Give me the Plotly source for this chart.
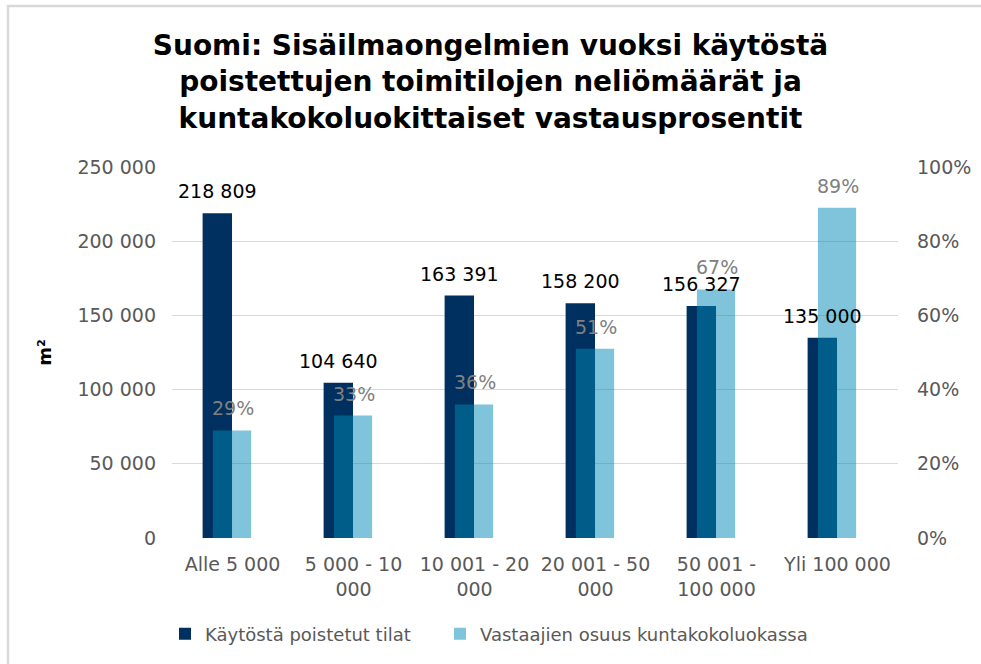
import plotly.graph_objects as go

categories = ["Alle 5 000", "5 000 - 10<br>000", "10 001 - 20<br>000", "20 001 - 50<br>000", "50 001 -<br>100 000", "Yli 100 000"]
poistetut = [218809, 104640, 163391, 158200, 156327, 135000]
poistetut_labels = ["218 809", "104 640", "163 391", "158 200", "156 327", "135 000"]
osuus = [0.29, 0.33, 0.36, 0.51, 0.67, 0.89]
osuus_labels = ["29%", "33%", "36%", "51%", "67%", "89%"]
y1_ticks = [0, 50000, 100000, 150000, 200000, 250000]
y1_ticktext = ["0", "50 000", "100 000", "150 000", "200 000", "250 000"]
y2_ticks = [0, 0.2, 0.4, 0.6, 0.8, 1.0]
y2_ticktext = ["0%", "20%", "40%", "60%", "80%", "100%"]

FONT = "Verdana, DejaVu Sans, sans-serif"
W, H = 981, 664
L, R, T, B = 172, 898, 167, 538

DARK = "#00305F"
LIGHT = "rgba(0,137,181,0.5)"

fig = go.Figure()
fig.add_trace(go.Bar(
    x=categories, y=poistetut, name="Käytöstä poistetut tilat",
    marker=dict(color=DARK, line=dict(width=0)),
    offset=-0.247, width=0.243, yaxis="y", hoverinfo="skip", legend="legend",
))
fig.add_trace(go.Bar(
    x=categories, y=osuus, name="Vastaajien osuus kuntakokoluokassa",
    marker=dict(color=LIGHT, line=dict(width=0)),
    offset=-0.162, width=0.316, yaxis="y2", hoverinfo="skip", legend="legend2",
))

annotations = []
for c, v, t in zip(categories, poistetut, poistetut_labels):
    annotations.append(dict(x=c, y=v, xref="x", yref="y", text=t, showarrow=False,
                            yanchor="bottom", yshift=9, xshift=-15,
                            font=dict(family=FONT, size=19, color="#000000")))
for c, v, t in zip(categories, osuus, osuus_labels):
    annotations.append(dict(x=c, y=v, xref="x", yref="y2", text=t, showarrow=False,
                            yanchor="bottom", yshift=9, xshift=0,
                            font=dict(family=FONT, size=19, color="#808080")))

pw, ph = R - L, B - T
def px(x):
    return (x - L) / pw
def py(y):
    return (B - y) / ph

legend_common = dict(
    orientation="h", xanchor="left", y=py(634), yanchor="middle",
    font=dict(family=FONT, size=18, color="#595959"), itemwidth=30,
    bgcolor="rgba(0,0,0,0)",
)

fig.update_layout(
    width=W, height=H,
    margin=dict(l=L, r=W - R, t=T, b=H - B, autoexpand=False),
    paper_bgcolor="white", plot_bgcolor="white",
    barmode="overlay",
    font=dict(family=FONT, size=19, color="#595959"),
    title=dict(
        text="Suomi: Sisäilmaongelmien vuoksi käytöstä<br>poistettujen toimitilojen neliömäärät ja<br>kuntakokoluokittaiset vastausprosentit",
        x=0.5, xref="container", xanchor="center", y=(H - 55) / H, yanchor="middle",
        font=dict(family=FONT, size=28, color="#000000", weight="bold"),
    ),
    xaxis=dict(
        type="category", showgrid=False, zeroline=False, showline=False, ticks="",
        tickfont=dict(family=FONT, size=19, color="#595959"), ticklabelstandoff=13,
    ),
    yaxis=dict(
        range=[0, 250000], tickvals=y1_ticks, ticktext=y1_ticktext,
        showgrid=True, gridcolor="#D9D9D9", gridwidth=1, zeroline=False, showline=False,
        ticks="", tickfont=dict(family=FONT, size=19, color="#595959"), ticklabelstandoff=15,
        title=dict(text="m²", font=dict(family=FONT, size=18, color="#000000", weight="bold"), standoff=21),
    ),
    yaxis2=dict(
        range=[0, 1], tickvals=y2_ticks, ticktext=y2_ticktext, overlaying="y", side="right",
        showgrid=False, zeroline=False, showline=False, ticks="",
        tickfont=dict(family=FONT, size=19, color="#595959"), ticklabelstandoff=18,
    ),
    legend=dict(x=px(165), **legend_common),
    legend2=dict(x=px(440), **legend_common),
    annotations=annotations,
    shapes=[dict(type="rect", xref="paper", yref="paper",
                 x0=px(8), x1=px(1000), y0=py(700), y1=py(6),
                 line=dict(color="#D9D9D9", width=2.5), fillcolor="rgba(0,0,0,0)", layer="below")],
    showlegend=True,
)

fig.write_html("out.html", config={"displayModeBar": False},
               post_script="document.body.style.margin='0';document.body.style.overflow='hidden';")
